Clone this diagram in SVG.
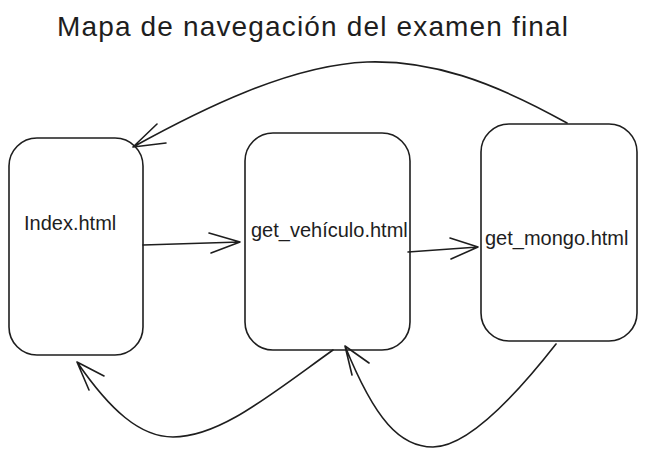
<svg xmlns="http://www.w3.org/2000/svg" width="647" height="458" viewBox="0 0 647 458">
<style>
.box{fill:#ffffff;stroke:#1e1e1e;stroke-width:1.6}
.lbl{font-family:"Liberation Sans",Arial,sans-serif;font-size:20px;fill:#1e1e1e}
.title{font-family:"Liberation Sans",Arial,sans-serif;font-size:28px;fill:#1e1e1e}
.edge{fill:none;stroke:#1e1e1e;stroke-width:1.6;stroke-linecap:round;stroke-linejoin:round}
</style>
<rect width="647" height="458" fill="#ffffff"/>
<text class="title" x="57" y="36" textLength="511" lengthAdjust="spacing">Mapa de navegación del examen final</text>
<g id="node-index">
<rect class="box" x="9" y="138" width="134" height="217" rx="28" ry="28"/>
<text class="lbl" x="24" y="230">Index.html</text>
</g>
<g id="node-get-vehiculo">
<rect class="box" x="245" y="133" width="165" height="217" rx="28" ry="28"/>
<text class="lbl" x="251" y="237">get_vehículo.html</text>
</g>
<g id="node-get-mongo">
<rect class="box" x="481" y="124" width="156" height="217" rx="28" ry="28"/>
<text class="lbl" x="485" y="245">get_mongo.html</text>
</g>
<g id="connectors">
<path class="edge" d="M143,245 L240,242 M209,233 L240,242 L211,253"/>
<path class="edge" d="M408,252 L478,247 M450,238 L478,247 L451,259"/>
<path class="edge" d="M567,123 C490,80 430,60 367,62 C290,65 200,110 133,147 M157,124 L133,147 L166,143"/>
<path class="edge" d="M333,350 C270,395 220,437 173,437 C140,437 110,410 77,362 M104,376 L77,362 L89,390"/>
<path class="edge" d="M556,344 C520,390 470,447 433,447 C400,447 375,420 345,346 M369,363 L345,346 L352,375"/>
</g>
</svg>
